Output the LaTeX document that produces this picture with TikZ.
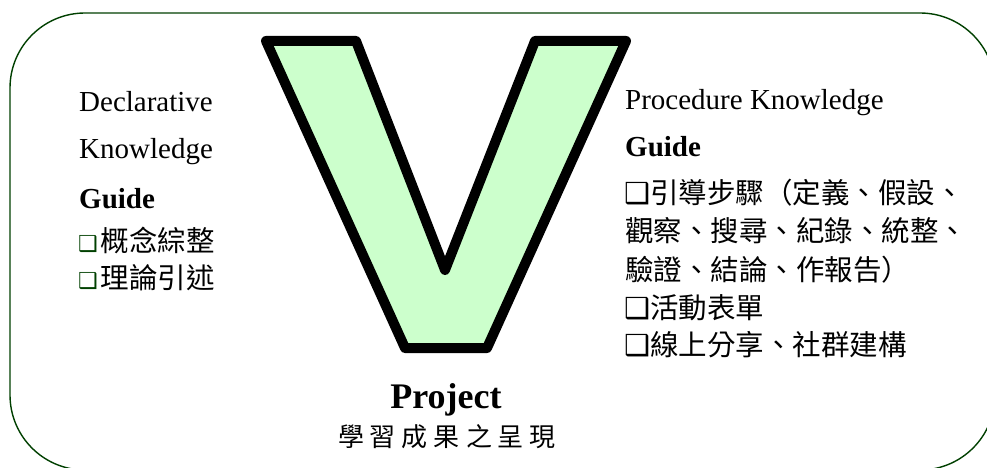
\documentclass[tikz,border=0pt]{standalone}
\usepackage{fontspec}
\setmainfont{Liberation Serif}
\newfontfamily\cjk{Noto Sans CJK TC}
\newfontfamily\symf{DejaVu Sans}
\definecolor{vfill}{HTML}{CCFFCC}
\definecolor{framegreen}{HTML}{004000}
\newcommand{\lbul}{{\color{framegreen}\symf\fontsize{22}{22}\selectfont ❑}}
\newcommand{\rbul}{{\symf\fontsize{29}{29}\selectfont ❑}}
\tikzset{
  txt/.style={anchor=base west, inner sep=0pt, font=\fontsize{29}{34}\selectfont},
  cjktxt/.style={anchor=base west, inner sep=0pt, font=\cjk\fontsize{28.5}{34}\selectfont},
  frameline/.style={draw=framegreen, line width=1.4pt, rounded corners=75pt},
  vshape/.style={draw=black, fill=vfill, line width=10pt, line join=round}
}
\begin{document}
\begin{tikzpicture}[x=1pt,y=-1pt]
\useasboundingbox (0,0) rectangle (987,468);
\fill[white] (0,0) rectangle (987,468);
\draw[frameline] (10,13) rectangle (995,470);
\draw[vshape] (266,41) -- (356,41) -- (445,270) -- (535,41) -- (626,41) -- (487,348) -- (405,348) -- cycle;
% left column
\node[txt] (decl) at (79,112) {Declarative};
\node[txt] (know) at (79,158) {Knowledge};
\node[txt, font=\bfseries\fontsize{29}{34}\selectfont] (lguide) at (79,208) {Guide};
\node[cjktxt] (l1) at (78,251) {\lbul\hspace{3pt}概念綜整};
\node[cjktxt] (l2) at (78,288) {\lbul\hspace{3pt}理論引述};
% right column
\node[txt] (proc) at (625,110) {Procedure Knowledge};
\node[txt, font=\bfseries\fontsize{29}{34}\selectfont] (rguide) at (625,157) {Guide};
\node[cjktxt] (r1) at (624,203) {\rbul 引導步驟（定義、假設、};
\node[cjktxt] (r2) at (625,241) {觀察、搜尋、紀錄、統整、};
\node[cjktxt] (r3) at (625,280) {驗證、結論、作報告）};
\node[cjktxt] (r4) at (624,318) {\rbul 活動表單};
\node[cjktxt] (r5) at (624,355) {\rbul 線上分享、社群建構};
% bottom
\node[anchor=base, inner sep=0pt, font=\bfseries\fontsize{36}{40}\selectfont] (proj) at (446,408) {Project};
\node[anchor=center, inner sep=0pt, font=\cjk\fontsize{26}{30}\selectfont] (res) at (447,437) {學\hspace{6pt}習\hspace{6pt}成\hspace{6pt}果\hspace{6pt}之\hspace{6pt}呈\hspace{6pt}現};
\end{tikzpicture}
\end{document}
